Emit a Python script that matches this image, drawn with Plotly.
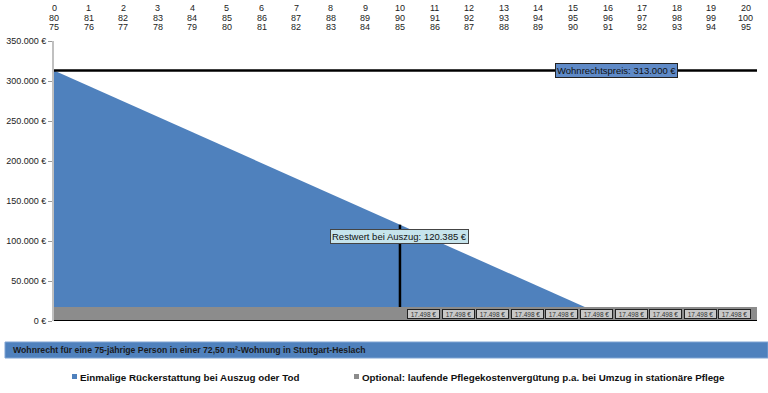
import plotly.graph_objects as go

# ---- data ----
years = list(range(0, 21))
age_person1 = [80, 81, 82, 83, 84, 85, 86, 87, 88, 89, 90, 91, 92, 93, 94, 95, 96, 97, 98, 99, 100]
age_person2 = [75, 76, 77, 78, 79, 80, 81, 82, 83, 84, 85, 86, 87, 88, 89, 90, 91, 92, 93, 94, 95]

refund_x = [0, 1, 2, 3, 4, 5, 6, 7, 8, 9, 10, 11, 12, 13, 14, 15, 16, 16.25]
refund_values = [313000, 293739, 274477, 255216, 235954, 216693, 197431, 178170, 158908,
                 139647, 120385, 101124, 81862, 62601, 43339, 24078, 4816, 0]

care_value = 17498
care_label_x = [10.68, 11.68, 12.68, 13.68, 14.68, 15.68, 16.68, 17.68, 18.68, 19.68]
care_labels = ["17.498 €"] * 10

price_value = 313000
price_label = "Wohnrechtspreis: 313.000 €"
price_label_x = 16.25
rest_year = 10
rest_value = 120385
rest_label = "Restwert bei Auszug: 120.385 €"

y_ticks = [0, 50000, 100000, 150000, 200000, 250000, 300000, 350000]
y_ticktext = ["0 €", "50.000 €", "100.000 €", "150.000 €", "200.000 €", "250.000 €", "300.000 €", "350.000 €"]

title_text = "Wohnrecht für eine 75-jährige Person in einer 72,50 m²-Wohnung in Stuttgart-Heslach"
legend_blue = "Einmalige Rückerstattung bei Auszug oder Tod"
legend_gray = "Optional: laufende Pflegekostenvergütung p.a. bei Umzug in stationäre Pflege"

X_MAX = 20.32
BLUE = "#4f81bd"
GRAY = "#8c8c8c"
FONT = "Liberation Sans, Arial, sans-serif"

PL, PT, PW, PH = 54, 41, 703, 280   # absolute plot-area position in the window


def px(xabs):
    return (xabs - PL) / PW


def py(yabs):
    return (PT + PH - yabs) / PH


fig = go.Figure()

# blue area
fig.add_trace(go.Scatter(
    x=refund_x, y=refund_values, mode="lines", fill="tozeroy",
    line=dict(color=BLUE, width=0), fillcolor=BLUE, showlegend=False,
    hoverinfo="skip"))

# gray care band
fig.add_trace(go.Scatter(
    x=[0, X_MAX], y=[care_value, care_value], mode="lines", fill="tozeroy",
    line=dict(color=GRAY, width=0), fillcolor=GRAY, showlegend=False,
    hoverinfo="skip"))

# price line
fig.add_trace(go.Scatter(
    x=[0, X_MAX], y=[price_value, price_value], mode="lines",
    line=dict(color="black", width=2.5), showlegend=False, hoverinfo="skip"))

# rest value vertical line
fig.add_trace(go.Scatter(
    x=[rest_year, rest_year], y=[care_value, rest_value], mode="lines",
    line=dict(color="black", width=2.5), showlegend=False, hoverinfo="skip"))

annotations = []
# top labels (3 rows)
for vals, yabs in [(years, 8.5), (age_person1, 18), (age_person2, 27.5)]:
    for x, v in zip(years, vals):
        annotations.append(dict(x=x, y=py(yabs), xref="x", yref="paper", text=str(v),
                                showarrow=False, font=dict(size=9, color="#222", family=FONT),
                                xanchor="center", yanchor="middle"))

# care labels
for x, t in zip(care_label_x, care_labels):
    annotations.append(dict(x=x, y=care_value / 2 + 500, xref="x", yref="y", text=t,
                            showarrow=False, font=dict(size=6.5, color="#333", family=FONT),
                            bgcolor="#c8c8c8", bordercolor="#222", borderwidth=1,
                            borderpad=1, width=29, height=6))

# price label
annotations.append(dict(x=price_label_x, y=price_value, xref="x", yref="y", text=price_label,
                        showarrow=False, font=dict(size=9.5, color="#111", family=FONT),
                        bgcolor="#5f8ac7", bordercolor="#222", borderwidth=1, borderpad=1))
# rest label
annotations.append(dict(x=rest_year, y=rest_value - 14500, xref="x", yref="y", text=rest_label,
                        showarrow=False, font=dict(size=9.5, color="#111", family=FONT),
                        bgcolor="#c6e4ec", bordercolor="#444", borderwidth=1, borderpad=1))

# title bar text
annotations.append(dict(x=px(11), y=py(350), xref="paper", yref="paper", text="<b>" + title_text + "</b>",
                        showarrow=False, font=dict(size=8.7, color="#1a1a1a", family=FONT),
                        xanchor="left", yanchor="middle"))
# legend texts
annotations.append(dict(x=px(78), y=py(377), xref="paper", yref="paper", text="<b>" + legend_blue + "</b>",
                        showarrow=False, font=dict(size=9.8, color="#111", family=FONT),
                        xanchor="left", yanchor="middle"))
annotations.append(dict(x=px(360), y=py(377), xref="paper", yref="paper", text="<b>" + legend_gray + "</b>",
                        showarrow=False, font=dict(size=9.8, color="#111", family=FONT),
                        xanchor="left", yanchor="middle"))

shapes = [
    # title bar
    dict(type="rect", xref="paper", yref="paper", x0=px(5), x1=px(768),
         y0=py(358), y1=py(342), fillcolor=BLUE, line=dict(color="#7fa3d3", width=1),
         layer="below"),
    # legend squares
    dict(type="rect", xref="paper", yref="paper", x0=px(72), x1=px(77),
         y0=py(379), y1=py(374), fillcolor=BLUE, line=dict(width=0)),
    dict(type="rect", xref="paper", yref="paper", x0=px(354), x1=px(359),
         y0=py(379), y1=py(374), fillcolor=GRAY, line=dict(width=0)),
    # bottom axis line
    dict(type="line", xref="paper", yref="y", x0=0, x1=1, y0=0, y1=0,
         line=dict(color="black", width=2)),
]

fig.update_layout(
    width=768, height=393,
    margin=dict(l=PL, r=768 - PL - PW, t=PT, b=393 - PT - PH, pad=0, autoexpand=False),
    paper_bgcolor="white", plot_bgcolor="white",
    font=dict(family=FONT, size=9, color="#222"),
    xaxis=dict(range=[0, X_MAX], showgrid=False, zeroline=False, showticklabels=False,
               showline=False, ticks="", automargin=False),
    yaxis=dict(range=[0, 350000], tickvals=y_ticks, ticktext=y_ticktext, showgrid=False,
               zeroline=False, showline=True, linecolor="#c0c0c0", linewidth=2,
               ticks="outside", ticklen=4, tickcolor="#999", tickfont=dict(size=9, color="#222"),
               automargin=False),
    annotations=annotations,
    shapes=shapes,
    showlegend=False,
)

# remove the browser's default 8px body margin so the figure fills the window exactly
fig.write_html("out.html", config={"displayModeBar": False},
               post_script="document.body.style.margin='0';document.body.style.overflow='hidden';")
